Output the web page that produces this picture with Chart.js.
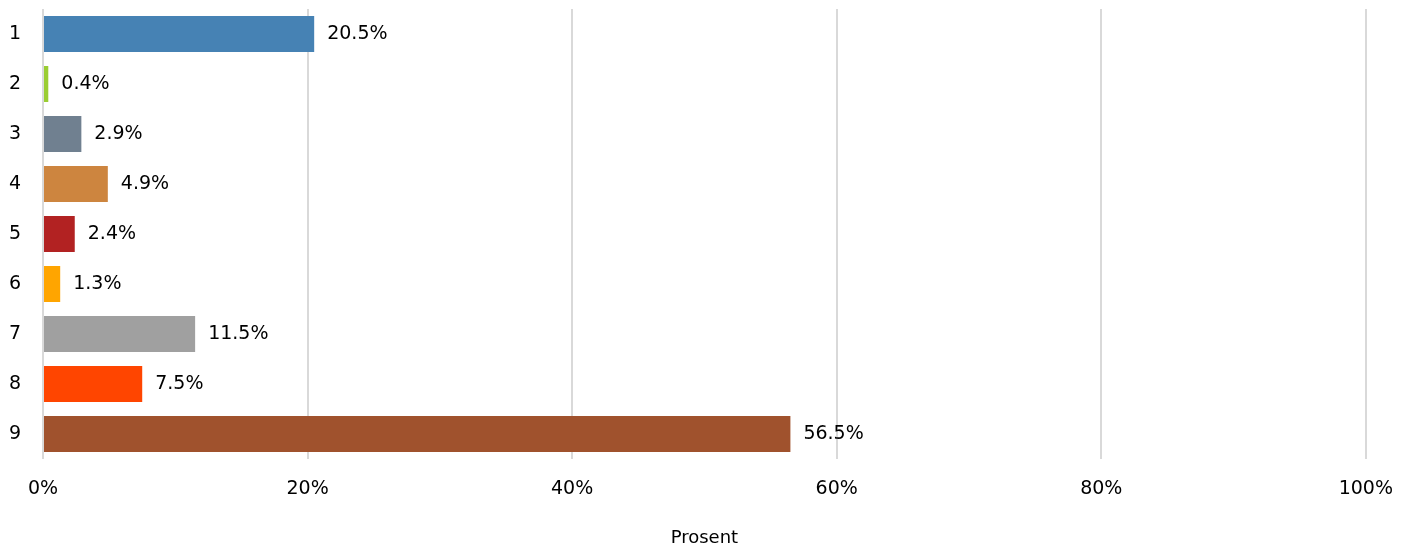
<!DOCTYPE html>
<html>
<head>
<meta charset="utf-8">
<script src="https://cdn.jsdelivr.net/npm/chart.js@4"></script>
<style>
  html, body { margin: 0; padding: 0; background: #fff; }
  #wrap { width: 1412px; height: 552px; }
</style>
</head>
<body>
<div id="wrap"><canvas id="chart"></canvas></div>
<script>
// --- data ---
const categories = ['1', '2', '3', '4', '5', '6', '7', '8', '9'];
const shares = [20.5, 0.4, 2.9, 4.9, 2.4, 1.3, 11.5, 7.5, 56.5];
const barColors = ['#4682b4', '#9acd32', '#708090', '#cd853f', '#b22222', '#ffa500', '#a0a0a0', '#ff4500', '#a0522d'];
const xTicks = [0, 20, 40, 60, 80, 100];

const FONT = "'DejaVu Sans', sans-serif";

// value labels just right of each bar end
const valueLabels = {
    id: 'valueLabels',
    afterDatasetsDraw(chart) {
        const ctx = chart.ctx;
        const meta = chart.getDatasetMeta(0);
        ctx.save();
        ctx.font = '19px ' + FONT;
        ctx.fillStyle = '#000';
        ctx.textAlign = 'left';
        ctx.textBaseline = 'middle';
        meta.data.forEach((bar, i) => {
            ctx.fillText(shares[i].toFixed(1) + '%', bar.x + 13, bar.y);
        });
        ctx.restore();
    }
};

new Chart(document.getElementById('chart'), {
    type: 'bar',
    data: {
        labels: categories,
        datasets: [{
            data: shares,
            backgroundColor: barColors,
            barPercentage: 0.72,
            categoryPercentage: 1
        }]
    },
    options: {
        indexAxis: 'y',
        responsive: true,
        maintainAspectRatio: false,
        animation: false,
        layout: { padding: { top: 9, right: 46, left: 0, bottom: 0 } },
        plugins: {
            legend: { display: false },
            tooltip: { enabled: false }
        },
        scales: {
            x: {
                min: 0,
                max: 100,
                afterBuildTicks: s => { s.ticks = xTicks.map(v => ({ value: v })); },
                afterFit: s => { s.height = 93; },
                grid: { color: '#d9d9d9', lineWidth: 2, drawTicks: false },
                border: { display: false },
                ticks: {
                    padding: 19,
                    color: '#000',
                    font: { family: FONT, size: 19 },
                    callback: v => v + '%'
                },
                title: {
                    display: true,
                    text: 'Prosent',
                    color: '#000',
                    font: { family: FONT, size: 18 },
                    padding: { top: 20, bottom: 3 }
                }
            },
            y: {
                afterFit: s => { s.width = 43; s.paddingTop = 0; s.paddingBottom = 0; },
                grid: { display: false },
                border: { display: false },
                ticks: {
                    color: '#000',
                    padding: 14,
                    font: { family: FONT, size: 19 }
                }
            }
        }
    },
    plugins: [valueLabels]
});
</script>
</body>
</html>
